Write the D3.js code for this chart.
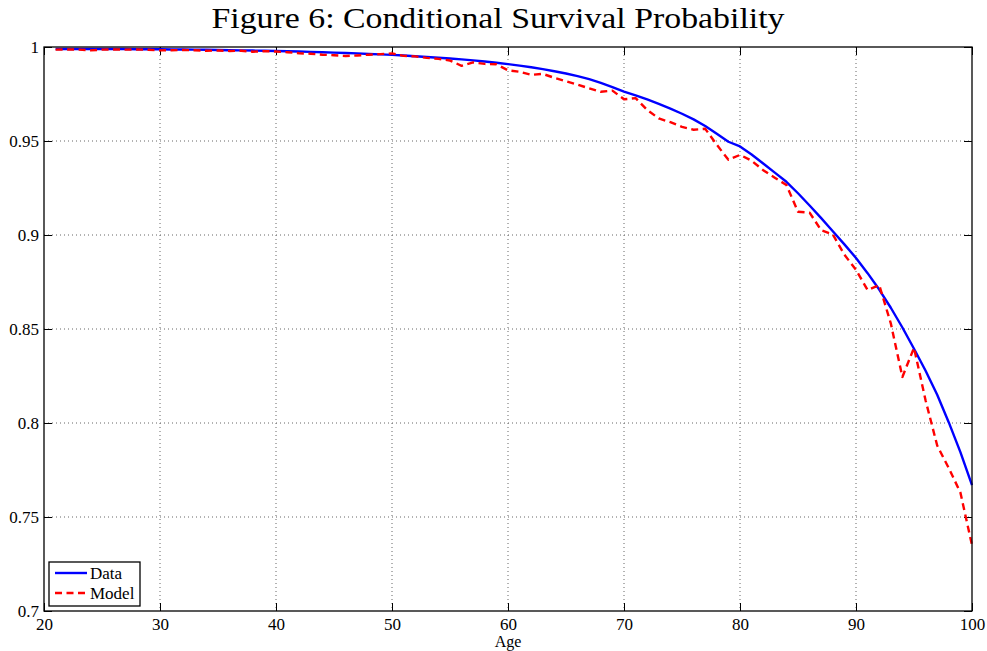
<!DOCTYPE html>
<html>
<head>
  <meta charset="UTF-8" />
  <title>Conditional Survival Probability</title>
  <style>
    body { margin: 0; padding: 0; background: #fff; }
    text { font-family: "Liberation Serif", "Times New Roman", Times, serif; fill: #000; }
  </style>
</head>
<body>
<script src="https://cdn.jsdelivr.net/npm/d3@7/dist/d3.min.js"></script>

<div id="chart"></div>

<script>
(function(d3) {
  'use strict';

  /* Data
  ----------------------------------------------- */
  var ages = d3.range(21, 101);

  // observed conditional survival probability, ages 21..100
  var dataValues = [
    0.9989, 0.9989, 0.9989, 0.9989, 0.9989, 0.9989, 0.9989, 0.9988, 0.9988, 0.9988,
    0.9987, 0.9987, 0.9986, 0.9985, 0.9984, 0.9983, 0.9982, 0.9981, 0.9980, 0.9979,
    0.9977, 0.9976, 0.9974, 0.9972, 0.9970, 0.9968, 0.9966, 0.9963, 0.9961, 0.9958,
    0.9955, 0.9951, 0.9947, 0.9943, 0.9939, 0.9934, 0.9929, 0.9923, 0.9916, 0.9909,
    0.9901, 0.9892, 0.9882, 0.9871, 0.9859, 0.9845, 0.9829, 0.9809, 0.9787, 0.9763,
    0.9743, 0.9721, 0.9697, 0.9672, 0.9645, 0.9615, 0.9580, 0.9538, 0.9496, 0.9471,
    0.9428, 0.9380, 0.9332, 0.9283, 0.9222, 0.9157, 0.9090, 0.9020, 0.8950, 0.8878,
    0.8797, 0.8710, 0.8613, 0.8508, 0.8395, 0.8278, 0.8150, 0.8003, 0.7845, 0.7670
  ];

  // model-implied conditional survival probability, ages 21..100
  var modelValues = [
    0.9986, 0.9987, 0.9986, 0.9982, 0.9986, 0.9987, 0.9986, 0.9987, 0.9985, 0.9982,
    0.9983, 0.9984, 0.9983, 0.9980, 0.9981, 0.9979, 0.9980, 0.9975, 0.9978, 0.9976,
    0.9972, 0.9967, 0.9964, 0.9959, 0.9956, 0.9952, 0.9955, 0.9959, 0.9962, 0.9966,
    0.9953, 0.9950, 0.9942, 0.9937, 0.9928, 0.9900, 0.9918, 0.9910, 0.9908, 0.9876,
    0.9868, 0.9852, 0.9857, 0.9836, 0.9818, 0.9800, 0.9780, 0.9762, 0.9768, 0.9722,
    0.9728, 0.9665, 0.9620, 0.9600, 0.9575, 0.9560, 0.9565, 0.9480, 0.9400, 0.9426,
    0.9395, 0.9345, 0.9305, 0.9266, 0.9124, 0.9119, 0.9025, 0.9003, 0.8895, 0.8815,
    0.8707, 0.8734, 0.8530, 0.8245, 0.8400, 0.8120, 0.7880, 0.7760, 0.7630, 0.7350
  ];

  var xTicks = [20, 30, 40, 50, 60, 70, 80, 90, 100];
  var yTicks = [0.7, 0.75, 0.8, 0.85, 0.9, 0.95, 1];
  var yTickLabels = ['0.7', '0.75', '0.8', '0.85', '0.9', '0.95', '1'];

  var seriesNames = ['Data', 'Model'];


  /* Configuration
  ----------------------------------------------- */
  var config = {
    width: 987,
    height: 651,
    margin: { top: 47, right: 15, bottom: 40, left: 44 },
    title: 'Figure 6: Conditional Survival Probability',
    xLabel: 'Age',
    tickLength: 8
  };

  var series = [
    { name: seriesNames[0], values: dataValues, color: '#0000ff', dash: null },
    { name: seriesNames[1], values: modelValues, color: '#ff0000', dash: '7,4.5' }
  ];


  /* Render
  ----------------------------------------------- */
  var innerW = config.width - config.margin.left - config.margin.right;
  var innerH = config.height - config.margin.top - config.margin.bottom;

  var svg = d3.select('#chart').append('svg')
    .attr('width', config.width)
    .attr('height', config.height);

  svg.append('rect')
    .attr('width', config.width)
    .attr('height', config.height)
    .attr('fill', '#fff');

  svg.append('text')
    .attr('x', 498)
    .attr('y', 28)
    .attr('text-anchor', 'middle')
    .attr('textLength', 573)
    .attr('lengthAdjust', 'spacingAndGlyphs')
    .style('font-size', '30px')
    .text(config.title);

  var g = svg.append('g')
    .attr('transform', 'translate(' + config.margin.left + ',' + config.margin.top + ')');

  // Scales

  var xScale = d3.scaleLinear().domain([20, 100]).range([0, innerW]);
  var yScale = d3.scaleLinear().domain([0.7, 1]).range([innerH, 0]);

  // Grid (dotted, MATLAB style)

  g.append('g').selectAll('line')
    .data(xTicks.slice(1, -1))
    .join('line')
    .attr('x1', xScale).attr('x2', xScale)
    .attr('y1', 0).attr('y2', innerH)
    .attr('stroke', '#666')
    .attr('stroke-width', 1)
    .attr('stroke-dasharray', '1,3');

  g.append('g').selectAll('line')
    .data(yTicks.slice(1, -1))
    .join('line')
    .attr('y1', yScale).attr('y2', yScale)
    .attr('x1', 0).attr('x2', innerW)
    .attr('stroke', '#666')
    .attr('stroke-width', 1)
    .attr('stroke-dasharray', '1,3');

  // Axes: ticks pointing inwards on all four sides

  var xAxisBottom = d3.axisBottom(xScale)
    .tickValues(xTicks)
    .tickSizeInner(-config.tickLength)
    .tickSizeOuter(0)
    .tickPadding(7)
    .tickFormat(d3.format('d'));

  var xAxisTop = d3.axisTop(xScale)
    .tickValues(xTicks)
    .tickSizeInner(-config.tickLength)
    .tickSizeOuter(0)
    .tickFormat('');

  var yAxisLeft = d3.axisLeft(yScale)
    .tickValues(yTicks)
    .tickSizeInner(-config.tickLength)
    .tickSizeOuter(0)
    .tickPadding(5)
    .tickFormat(function(d, i) { return yTickLabels[i]; });

  var yAxisRight = d3.axisRight(yScale)
    .tickValues(yTicks)
    .tickSizeInner(-config.tickLength)
    .tickSizeOuter(0)
    .tickFormat('');

  function styleAxis(sel) {
    sel.attr('font-family', null).attr('font-size', null);
    sel.select('.domain').remove();
    sel.selectAll('line').attr('stroke', '#000');
    sel.selectAll('text')
      .style('font-size', '17px')
      .attr('fill', '#000');
  }

  g.append('g').attr('transform', 'translate(0,' + innerH + ')').call(xAxisBottom).call(styleAxis);
  g.append('g').call(xAxisTop).call(styleAxis);
  g.append('g').call(yAxisLeft).call(styleAxis);
  g.append('g').attr('transform', 'translate(' + innerW + ',0)').call(yAxisRight).call(styleAxis);

  g.append('text')
    .attr('x', innerW / 2)
    .attr('y', innerH + 36)
    .attr('text-anchor', 'middle')
    .style('font-size', '16px')
    .text(config.xLabel);

  // Lines

  var line = d3.line()
    .x(function(d, i) { return xScale(ages[i]); })
    .y(function(d) { return yScale(d); });

  g.append('g').selectAll('path')
    .data(series)
    .join('path')
    .attr('d', function(s) { return line(s.values); })
    .attr('fill', 'none')
    .attr('stroke', function(s) { return s.color; })
    .attr('stroke-width', 2.4)
    .attr('stroke-linejoin', 'round')
    .attr('stroke-dasharray', function(s) { return s.dash; });

  // Plot frame

  g.append('rect')
    .attr('width', innerW)
    .attr('height', innerH)
    .attr('fill', 'none')
    .attr('stroke', '#000')
    .attr('stroke-width', 1.3);

  // Legend

  var legend = g.append('g')
    .attr('transform', 'translate(5,' + (innerH - 49) + ')');

  legend.append('rect')
    .attr('width', 91)
    .attr('height', 44)
    .attr('fill', '#fff')
    .attr('stroke', '#000')
    .attr('stroke-width', 1.3);

  var items = legend.selectAll('g.item')
    .data(series)
    .join('g')
    .attr('class', 'item')
    .attr('transform', function(s, i) { return 'translate(0,' + (11 + i * 20) + ')'; });

  items.append('line')
    .attr('x1', 6).attr('x2', 38)
    .attr('stroke', function(s) { return s.color; })
    .attr('stroke-width', 2.4)
    .attr('stroke-dasharray', function(s) { return s.dash; });

  items.append('text')
    .attr('x', 41)
    .attr('y', 6)
    .style('font-size', '17px')
    .text(function(s) { return s.name; });

}(d3));
</script>
</body>
</html>
